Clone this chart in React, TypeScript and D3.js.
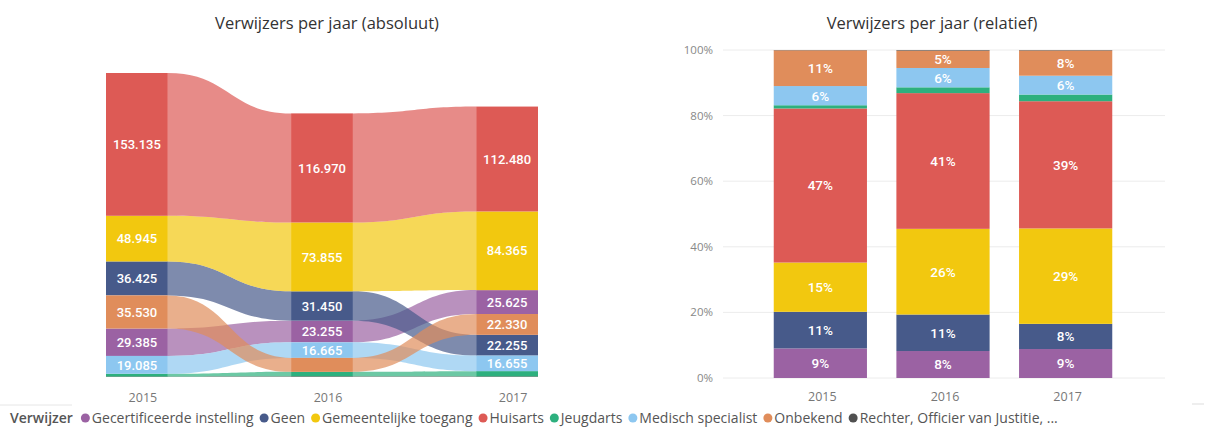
import React from 'react';
import * as d3 from 'd3';

const years = ['2015', '2016', '2017'];
const seriesNames = [
  'Gecertificeerde instelling',
  'Geen',
  'Gemeentelijke toegang',
  'Huisarts',
  'Jeugdarts',
  'Medisch specialist',
  'Onbekend',
  'Rechter, Officier van Justitie, ...',
];
const seriesColors = ['#9B62A3', '#475A8A', '#F2C80F', '#DD5A55', '#2DB07E', '#8DC7F0', '#E08D5B', '#505050'];

const gecertificeerde = [29385, 23255, 25625];
const geen = [36425, 31450, 22255];
const gemeentelijke = [48945, 73855, 84365];
const huisarts = [153135, 116970, 112480];
const jeugdarts = [3200, 5000, 5900];
const medisch = [19085, 16665, 16655];
const onbekend = [35530, 15000, 22330];
const rechter = [300, 500, 400];

const seriesValues = [gecertificeerde, geen, gemeentelijke, huisarts, jeugdarts, medisch, onbekend, rechter];
const pctTicks = [0, 0.2, 0.4, 0.6, 0.8, 1];

const W = 1212;
const H = 427;
const nl = d3.formatLocale({ decimal: ',', thousands: '.', grouping: [3], currency: ['€', ''] });
const fmt = nl.format(',d');

const titleFont = "'Open Sans', sans-serif";
const labelFont = "Roboto, sans-serif";

function measure(text: string, font: string) {
  const c = document.createElement('canvas');
  const ctx = c.getContext('2d')!;
  ctx.font = font;
  return ctx.measureText(text).width;
}

export default function App() {
  const totals = years.map((_, i) => d3.sum(seriesValues, (s) => s[i]));

  // ---------- Left: ribbon chart ----------
  const xL = d3.scaleBand<string>().domain(years).range([106, 538]).paddingInner(0.666).paddingOuter(0);
  const bwL = xL.bandwidth();
  const yL = d3.scaleLinear().domain([0, d3.max(totals)!]).range([377, 73]);

  const pos: { top: number; bot: number; v: number }[][] = seriesValues.map(() => []);
  years.forEach((_, i) => {
    const order = d3.range(seriesValues.length).sort((a, b) => seriesValues[a][i] - seriesValues[b][i]);
    let cum = 0;
    order.forEach((s) => {
      const v = seriesValues[s][i];
      pos[s][i] = { bot: yL(cum), top: yL(cum + v), v };
      cum += v;
    });
  });

  const ribbons: JSX.Element[] = [];
  for (let i = 0; i < years.length - 1; i++) {
    const x0 = xL(years[i])! + bwL;
    const x1 = xL(years[i + 1])!;
    const xm = (x0 + x1) / 2;
    seriesValues.forEach((_, s) => {
      const a = pos[s][i];
      const b = pos[s][i + 1];
      const d = `M${x0},${a.top} C${xm},${a.top} ${xm},${b.top} ${x1},${b.top} L${x1},${b.bot} C${xm},${b.bot} ${xm},${a.bot} ${x0},${a.bot} Z`;
      ribbons.push(<path key={`r${i}-${s}`} d={d} fill={seriesColors[s]} fillOpacity={0.7} />);
    });
  }

  // ---------- Right: 100% stacked ----------
  const xR = d3.scaleBand<string>().domain(years).range([721, 1165]).paddingInner(0.24).paddingOuter(0.43);
  const yR = d3.scaleLinear().domain([0, 1]).range([378, 50]);
  const stackData = years.map((y, i) => {
    const o: any = { year: y };
    seriesValues.forEach((s, k) => (o[k] = s[i] / totals[i]));
    return o;
  });
  const stack = d3.stack<any>().keys(seriesValues.map((_, k) => String(k)));
  const stacked = stack(stackData);

  // ---------- Legend ----------
  const legendSize = 14;
  const legendFont = `${legendSize}px ${titleFont}`;
  const legendTitleFont = `600 ${legendSize}px ${titleFont}`;
  const legendItems: JSX.Element[] = [];
  let cx = 10;
  const ly = 418;
  legendItems.push(
    <text key="lt" x={cx} y={ly} dy="0.35em" fontFamily={titleFont} fontSize={legendSize} fontWeight={600} fill="#555">Verwijzer</text>
  );
  cx += measure('Verwijzer', legendTitleFont) + 8;
  seriesNames.forEach((n, k) => {
    legendItems.push(<circle key={`lc${k}`} cx={cx + 4.5} cy={ly} r={4.5} fill={seriesColors[k]} />);
    cx += 11;
    legendItems.push(
      <text key={`ltx${k}`} x={cx} y={ly} dy="0.35em" fontFamily={titleFont} fontSize={legendSize} fill="#555">{n}</text>
    );
    cx += measure(n, legendFont) + 6;
  });

  return (
    <svg width={W} height={H} style={{ position: 'absolute', left: 0, top: 0, background: '#fff' }}>
      {/* Titles */}
      <text x={327} y={29} textAnchor="middle" fontFamily={titleFont} fontSize={16.5} fill="#333">Verwijzers per jaar (absoluut)</text>
      <text x={932} y={29} textAnchor="middle" fontFamily={titleFont} fontSize={16.5} fill="#333">Verwijzers per jaar (relatief)</text>

      {/* Left ribbon chart */}
      <g>{ribbons}</g>
      <g>
        {years.map((y, i) =>
          seriesValues.map((_, s) => {
            const p = pos[s][i];
            return (
              <rect key={`b${i}-${s}`} x={xL(y)} y={p.top} width={bwL} height={Math.max(0, p.bot - p.top)} fill={seriesColors[s]} />
            );
          })
        )}
      </g>
      <g>
        {years.map((y, i) =>
          seriesValues.map((_, s) => {
            const p = pos[s][i];
            if (p.bot - p.top < 15) return null;
            return (
              <text key={`l${i}-${s}`} x={xL(y)! + bwL / 2} y={(p.top + p.bot) / 2} dy="0.36em" textAnchor="middle"
                fontFamily={labelFont} fontSize={13} fontWeight={500} fill="#fff">{fmt(p.v)}</text>
            );
          })
        )}
      </g>
      <g>
        {years.map((y) => (
          <text key={`xl${y}`} x={xL(y)! + bwL / 2 + 6} y={398} dy="0.35em" textAnchor="middle" fontFamily={titleFont} fontSize={12.5} fill="#777">{y}</text>
        ))}
      </g>

      {/* Right chart */}
      <g>
        {pctTicks.map((t) => (
          <g key={`g${t}`}>
            <line x1={723} x2={1165} y1={yR(t)} y2={yR(t)} stroke="#ececec" strokeWidth={1} />
            <text x={713} y={yR(t)} dy="0.35em" textAnchor="end" fontFamily={titleFont} fontSize={11.5} fill="#888">{Math.round(t * 100)}%</text>
          </g>
        ))}
      </g>
      <g>
        {stacked.map((layer, k) =>
          layer.map((d, i) => (
            <rect key={`rb${k}-${i}`} x={xR(years[i])} y={yR(d[1])} width={xR.bandwidth()} height={Math.max(0, yR(d[0]) - yR(d[1]))} fill={seriesColors[k]} />
          ))
        )}
      </g>
      <g>
        {stacked.map((layer, k) =>
          layer.map((d, i) => {
            const v = d[1] - d[0];
            if (v < 0.04) return null;
            return (
              <text key={`rl${k}-${i}`} x={xR(years[i])! + xR.bandwidth() / 2} y={(yR(d[0]) + yR(d[1])) / 2} dy="0.36em" textAnchor="middle"
                fontFamily={labelFont} fontSize={13.5} fontWeight={500} fill="#fff">{Math.round(v * 100)}%</text>
            );
          })
        )}
      </g>
      <g>
        {years.map((y) => (
          <text key={`xr${y}`} x={xR(y)! + xR.bandwidth() / 2 + 2} y={397} dy="0.35em" textAnchor="middle" fontFamily={titleFont} fontSize={12.5} fill="#777">{y}</text>
        ))}
      </g>

      {/* Legend */}
      <line x1={0} x2={72} y1={405} y2={405} stroke="#e6e6e6" />
      <line x1={1192} x2={1204} y1={404} y2={404} stroke="#dddddd" />
      <g>{legendItems}</g>
    </svg>
  );
}
